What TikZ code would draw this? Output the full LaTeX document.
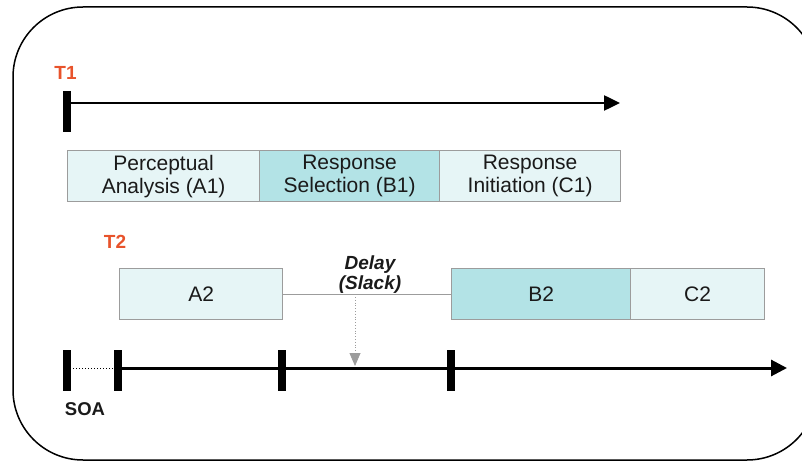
\documentclass[tikz,border=0pt]{standalone}
\usepackage{fontspec}
\setmainfont{Liberation Sans}
\usetikzlibrary{arrows.meta}

\definecolor{stagelight}{HTML}{E6F5F6}
\definecolor{stagedark}{HTML}{B3E3E6}
\definecolor{stageedge}{HTML}{9C9C9C}
\definecolor{tasklabel}{HTML}{E8532B}
\definecolor{inktext}{HTML}{1A1A1A}

\tikzset{
  stage/.style={draw=stageedge, line width=1.2pt, fill=stagelight,
    minimum height=51, inner sep=0pt, anchor=north west, align=center,
    text=inktext, font=\fontsize{21}{23}\selectfont},
  stagekey/.style={stage, fill=stagedark},
  taskname/.style={text=tasklabel, font=\bfseries\fontsize{19}{22}\selectfont,
    inner sep=0pt, anchor=base},
  tickbar/.style={line width=8pt},
  timeline/.style={line width=3pt, -{Triangle[length=16pt,width=16pt]}},
}

\begin{document}
\begin{tikzpicture}[x=1pt, y=-1pt]
\useasboundingbox (0,0) rectangle (802,462);

% outer frame, running past the right edge
\begin{scope}
  \clip (0,0) rectangle (802,462);
  \draw[line width=1.5pt, rounded corners=70pt] (13,7) rectangle (817,460);
\end{scope}

% task 1
\node[taskname] (t1) at (65.5,80) {T1};
\coordinate (t1start) at (67,103);
\coordinate (t1end) at (620,103);
\draw[tickbar] (67,91) -- (67,132);
\draw[line width=2.5pt, -{Triangle[length=16pt,width=15pt]}] (t1start) -- (t1end);

\node[stage, minimum width=192] (A1) at (67,150) {Perceptual\\Analysis (A1)};
\node[stagekey, minimum width=180] (B1) at (259,150) {Response\\Selection (B1)};
\node[stage, minimum width=181] (C1) at (439,150) {Response\\Initiation (C1)};

% task 2
\node[taskname] (t2) at (115,248) {T2};
\node[stage, minimum width=163] (A2) at (119,268) {A2};
\node[stagekey, minimum width=179] (B2) at (451,268) {B2};
\node[stage, minimum width=134] (C2) at (630,268) {C2};

\draw[stageedge, line width=1.2pt] (A2.east) -- (B2.west);
\node[anchor=south, inner sep=0pt, align=center, text=inktext,
  font=\bfseries\itshape\fontsize{19}{20}\selectfont] (delay) at (370,294)
  {Delay\\(Slack)};

% time axis with stimulus onsets
\coordinate (s0) at (67,368);
\coordinate (s1) at (118,368);
\coordinate (s2) at (282,368);
\coordinate (s3) at (451,368);
\coordinate (axisend) at (787,368);
\coordinate (slacktop) at (355,297);
\coordinate (slackhit) at (355,366);

\draw[line width=1pt, dotted] (s0) -- (s1);
\draw[timeline] (s1) -- (axisend);
\foreach \p in {s0,s1,s2,s3}
  \draw[tickbar] ([yshift=18pt]\p) -- ([yshift=-23pt]\p);

\draw[stageedge, line width=0.8pt, dotted, -{Triangle[length=13pt,width=11pt]}]
  (slacktop) -- (slackhit);

\node[anchor=base, inner sep=0pt, text=inktext,
  font=\bfseries\fontsize{18.5}{21}\selectfont] (soa) at (85,415) {SOA};
\end{tikzpicture}
\end{document}
